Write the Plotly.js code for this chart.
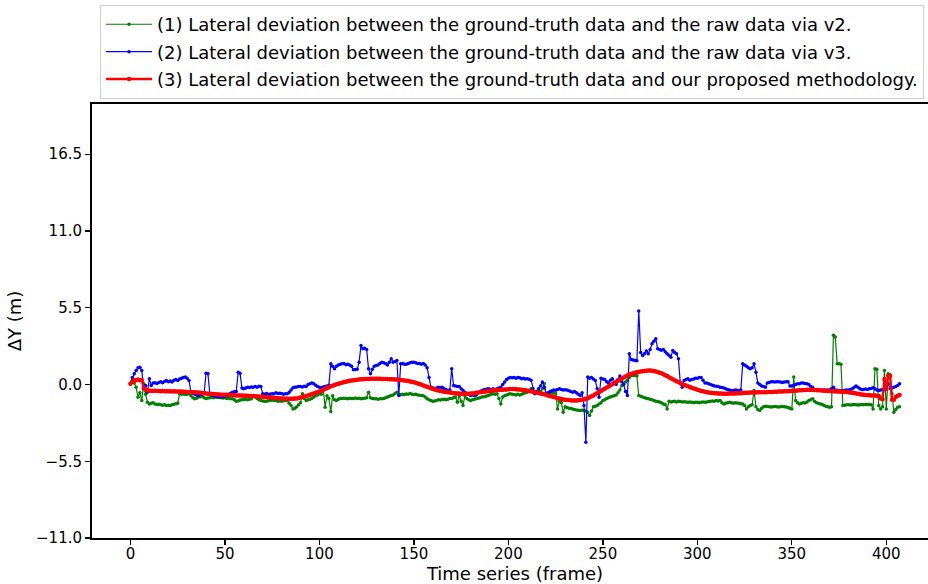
<!DOCTYPE html>
<html>
<head>
<meta charset="utf-8">
<script src="https://cdn.plot.ly/plotly-3.0.1.min.js"></script>
<style>
html,body{margin:0;padding:0;background:#fff;overflow:hidden;}
#chart{width:942px;height:584px;}
</style>
</head>
<body>
<div id="chart"></div>
<script>
// Lateral deviation (m) per frame
const devV2 = [
0.05,0.3,0.1,-0.2,-0.91,-0.6,-1.15,0.05,-0.7,-1.27,
-1.39,-1.35,-1.3,-1.4,-1.44,-1.42,-1.45,-1.48,-1.45,-1.5,
-1.48,-1.5,-1.45,-1.42,-1.38,-1.34,-0.67,-0.7,-0.68,-0.72,
-0.7,-0.67,-0.8,-0.95,-1.03,-0.98,-0.9,-0.88,-0.86,-0.95,
-1.0,-0.97,-0.95,-0.92,-0.95,-0.9,-0.93,-0.91,-0.95,-0.97,
-0.95,-1.0,-0.98,-1.02,-1.03,-1.1,-1.2,-1.18,-1.12,-1.1,
-1.08,-1.05,-1.1,-1.05,-1.03,-0.79,-0.9,-1.0,-1.1,-1.15,
-1.18,-1.2,-1.2,-1.17,-1.15,-1.12,-1.15,-1.15,-1.2,-1.18,
-1.2,-1.17,-1.15,-1.15,-1.35,-1.5,-1.75,-1.7,-1.6,-1.45,
-1.3,-0.67,-1.0,-1.15,-1.1,-1.05,-1.0,-0.9,-0.8,-0.75,
-0.67,-0.7,-0.31,-1.63,-0.8,-1.0,-1.94,-0.8,-1.1,-1.15,
-1.05,-1.0,-1.0,-0.98,-1.0,-1.02,-0.98,-1.0,-1.0,-0.97,
-1.0,-0.98,-1.02,-1.0,-0.98,-0.95,-0.55,-0.95,-1.0,-1.02,
-1.03,-1.05,-1.03,-1.03,-1.0,-0.95,-0.9,-0.85,-0.79,-0.75,
-0.65,-0.55,-0.7,-0.74,-0.7,-0.72,-0.68,-0.7,-0.65,-0.7,
-0.72,-0.7,-0.75,-0.77,-0.79,-0.8,-0.9,-1.03,-1.1,-1.15,
-1.2,-1.18,-1.15,-1.1,-1.12,-1.08,-1.05,-1.1,-1.05,-1.0,
-1.0,-0.95,-0.9,-1.27,-0.79,-1.2,-1.5,-0.8,-1.0,-1.1,
-1.15,-1.1,-1.05,-1.03,-0.98,-0.95,-0.9,-0.88,-0.85,-0.8,
-0.75,-0.7,-0.67,-0.7,-0.67,-1.0,-1.39,-0.9,-0.8,-0.75,
-0.7,-0.67,-0.7,-0.72,-0.75,-0.7,-0.75,-0.7,-0.65,-0.6,
-0.55,-0.45,-0.31,-0.5,-0.55,-0.5,-0.45,-0.5,-0.3,0.05,
-0.67,-0.65,-0.6,-0.62,-0.6,-0.65,-1.75,-1.2,-1.3,-1.99,
-1.6,-1.65,-1.7,-1.72,-1.75,-1.8,-1.82,-1.85,-1.87,-1.85,
-1.87,-1.9,-2.0,-2.23,-1.9,-1.6,-1.55,-1.5,-1.4,-1.3,
-1.15,-1.1,-1.0,-0.95,-0.9,-0.85,-0.8,-0.75,-0.6,-0.4,
-0.07,0.05,0.17,0.3,0.5,0.65,0.65,0.65,0.62,-0.79,
-0.85,-0.9,-0.95,-0.98,-1.03,-1.05,-1.1,-1.15,-1.2,-1.22,
-1.25,-1.3,-1.39,-1.45,-1.75,-1.2,-1.25,-1.22,-1.2,-1.25,
-1.2,-1.22,-1.25,-1.23,-1.25,-1.28,-1.25,-1.27,-1.3,-1.28,
-1.27,-1.3,-1.28,-1.25,-1.27,-1.25,-1.22,-1.2,-1.18,-1.2,
-1.15,-1.18,-1.15,-1.3,-1.4,-1.35,-1.3,-1.28,-1.3,-1.35,
-1.3,-1.32,-1.35,-1.38,-1.4,-1.5,-1.75,-1.6,-1.5,-1.45,
-0.43,-1.6,-1.8,-1.87,-1.7,-1.6,-1.55,-1.58,-1.6,-1.62,
-1.6,-1.58,-1.6,-1.62,-1.6,-1.58,-1.6,-1.62,-1.65,-1.7,
-1.75,0.53,-1.15,-1.3,-1.4,-1.35,-1.3,-1.32,-1.25,-1.15,
-1.1,-1.03,-1.2,-1.3,-1.35,-1.4,-1.42,-1.5,-1.55,-1.6,
-1.63,-1.6,3.52,3.4,1.48,1.48,1.45,-1.5,-1.48,-1.45,
-1.45,-1.47,-1.45,-1.44,-1.45,-1.47,-1.45,-1.44,-1.45,-1.43,
-1.44,-1.44,-1.45,-1.75,1.12,1.1,-1.5,-1.75,-1.6,1.0,
-1.75,0.77,0.7,-0.67,-1.99,-1.8,-1.63,-1.6
];
const devV3 = [
0.05,0.5,0.77,1.0,1.2,1.24,1.0,-0.31,-0.07,-0.55,
0.41,-0.07,0.1,0.12,0.08,0.15,0.2,0.12,0.22,0.29,
0.2,0.25,0.18,0.3,0.35,0.28,0.4,0.45,0.5,0.53,
0.45,0.29,-0.55,-0.62,-0.7,-0.75,-0.79,-0.72,-0.68,-0.6,
0.81,0.78,-0.67,-0.75,-0.8,-0.85,-0.88,-0.9,-0.86,-0.88,
-0.85,-0.8,-0.7,-0.62,-0.55,-0.52,-0.5,0.88,0.8,-0.25,
-0.31,-0.25,-0.2,-0.22,-0.18,-0.19,-0.15,-0.2,-0.12,-0.14,
-0.67,-0.7,-0.65,-0.72,-0.68,-0.66,-0.67,-0.6,-0.65,-0.62,
-0.64,-0.7,-0.66,-0.67,-0.55,-0.4,-0.24,-0.2,-0.18,-0.15,
-0.14,-0.18,-0.12,-0.14,0.0,0.05,0.1,0.05,-0.05,-0.15,
-0.2,-0.24,-0.18,-0.15,-0.1,-0.05,1.48,1.3,1.12,1.3,
1.4,1.45,1.48,1.5,1.42,1.45,1.4,1.3,1.05,1.08,
1.1,1.6,2.8,2.56,2.6,2.5,1.12,0.77,1.1,1.3,
1.36,1.4,1.5,1.6,1.55,1.5,1.4,1.6,1.84,1.6,
1.65,1.72,-0.79,1.48,1.5,1.45,1.45,1.5,1.55,1.6,
1.6,1.55,1.5,1.5,1.45,1.5,1.4,1.2,0.5,-0.19,
-0.25,-0.31,-0.25,-0.2,-0.22,-0.2,-0.3,-0.35,-0.43,-0.4,
1.12,-0.07,-0.1,-0.15,-0.15,-0.3,-0.43,-0.55,-0.67,-0.72,
-0.79,-0.75,-0.78,-0.75,-0.6,-0.5,-0.43,-0.38,-0.35,-0.31,
-0.33,-0.35,-0.3,-0.35,-0.3,-0.25,-0.2,0.0,0.17,0.35,
0.45,0.5,0.48,0.5,0.45,0.5,0.48,0.42,0.45,0.4,
0.41,0.38,0.3,-0.3,-0.67,-0.5,-0.3,-0.1,0.17,-0.2,
-0.67,-0.6,-0.5,-0.45,-0.4,-0.42,-0.35,-0.3,-0.35,-0.4,
-0.38,-0.4,-0.45,-0.5,-0.55,-0.5,-0.6,-0.7,-0.79,-0.6,
-1.5,-4.14,0.53,0.45,0.5,0.4,0.29,-0.3,-0.91,0.45,
0.4,0.35,0.2,0.1,0.3,0.41,0.1,0.0,0.35,0.6,
0.2,0.0,-0.5,-0.79,2.2,1.8,1.75,1.72,1.7,5.26,
2.3,2.08,2.2,2.4,2.2,2.5,2.92,3.1,3.28,2.56,
2.5,2.45,2.5,2.35,2.2,2.1,1.96,2.44,2.3,2.2,
1.84,0.05,-0.2,0.29,0.35,0.41,0.3,0.35,0.4,0.45,
0.45,0.5,0.5,0.3,0.1,0.1,0.05,0.0,-0.05,-0.1,
-0.12,-0.15,-0.19,-0.22,-0.25,-0.3,-0.35,-0.4,-0.45,-0.43,
-0.4,-0.42,-0.45,-0.4,1.48,1.4,1.3,1.2,1.12,1.2,
1.48,0.88,0.1,0.0,-0.1,-0.15,-0.19,0.1,0.15,0.2,
0.2,0.18,0.2,0.2,0.18,0.15,0.18,0.2,0.2,-0.1,
-0.1,-0.07,0.0,0.05,0.05,0.1,0.1,0.08,0.05,0.0,
-0.15,-0.19,-0.4,-0.43,-0.42,-0.43,-0.43,-0.4,-0.42,-0.4,
-0.4,-0.3,-0.19,-0.4,-0.42,-0.45,-0.43,-0.45,-0.42,-0.4,
-0.4,-0.35,-0.31,-0.2,-0.1,-0.2,-0.3,-0.35,-0.35,-0.33,
-0.35,-0.3,-0.28,-0.24,-0.3,-0.4,-0.43,-0.4,-0.38,-0.38,
-0.3,0.05,-0.3,-0.25,-0.2,-0.15,-0.07,0.05
];
const devProposed = [
0.05,0.2,0.3,0.3,0.35,0.3,0.32,-0.25,-0.4,-0.42,
-0.45,-0.44,-0.46,-0.45,-0.47,-0.46,-0.48,-0.47,-0.48,-0.48,
-0.49,-0.48,-0.5,-0.49,-0.5,-0.5,-0.51,-0.5,-0.52,-0.52,
-0.53,-0.54,-0.55,-0.55,-0.56,-0.58,-0.58,-0.6,-0.62,-0.63,
-0.64,-0.66,-0.66,-0.68,-0.69,-0.7,-0.72,-0.72,-0.73,-0.73,
-0.74,-0.74,-0.75,-0.76,-0.76,-0.77,-0.78,-0.78,-0.79,-0.79,
-0.8,-0.8,-0.81,-0.82,-0.82,-0.83,-0.84,-0.85,-0.86,-0.87,
-0.88,-0.89,-0.9,-0.91,-0.93,-0.94,-0.96,-0.97,-0.98,-1.0,
-1.0,-1.01,-1.02,-1.03,-1.03,-1.03,-1.02,-1.01,-1.0,-0.97,
-0.93,-0.9,-0.86,-0.82,-0.78,-0.74,-0.7,-0.65,-0.6,-0.55,
-0.5,-0.44,-0.38,-0.32,-0.26,-0.2,-0.14,-0.09,-0.04,0.01,
0.05,0.09,0.13,0.17,0.2,0.23,0.26,0.28,0.3,0.32,
0.34,0.35,0.37,0.38,0.39,0.4,0.4,0.41,0.41,0.42,
0.42,0.41,0.41,0.4,0.4,0.4,0.39,0.38,0.38,0.37,
0.36,0.35,0.34,0.33,0.31,0.29,0.27,0.25,0.22,0.19,
0.16,0.12,0.08,0.03,-0.02,-0.07,-0.12,-0.17,-0.22,-0.27,
-0.31,-0.35,-0.39,-0.43,-0.46,-0.49,-0.52,-0.54,-0.56,-0.58,
-0.6,-0.62,-0.63,-0.64,-0.65,-0.66,-0.67,-0.67,-0.67,-0.66,
-0.65,-0.64,-0.62,-0.6,-0.58,-0.56,-0.54,-0.52,-0.5,-0.48,
-0.46,-0.44,-0.42,-0.41,-0.4,-0.39,-0.38,-0.37,-0.36,-0.35,
-0.34,-0.33,-0.33,-0.33,-0.34,-0.35,-0.36,-0.38,-0.4,-0.42,
-0.44,-0.46,-0.49,-0.52,-0.55,-0.58,-0.61,-0.64,-0.67,-0.7,
-0.74,-0.78,-0.82,-0.86,-0.9,-0.94,-0.98,-1.01,-1.04,-1.07,
-1.09,-1.11,-1.12,-1.13,-1.14,-1.14,-1.14,-1.13,-1.12,-1.1,
-1.07,-1.03,-0.98,-0.92,-0.85,-0.78,-0.7,-0.62,-0.54,-0.46,
-0.38,-0.3,-0.22,-0.14,-0.06,0.02,0.1,0.18,0.26,0.34,
0.42,0.5,0.58,0.65,0.71,0.76,0.8,0.84,0.87,0.9,
0.93,0.95,0.97,0.99,1.0,1.0,0.99,0.97,0.94,0.9,
0.85,0.8,0.74,0.67,0.6,0.52,0.45,0.38,0.31,0.24,
0.17,0.1,0.03,-0.03,-0.08,-0.13,-0.18,-0.23,-0.28,-0.33,
-0.38,-0.42,-0.46,-0.49,-0.52,-0.55,-0.57,-0.59,-0.61,-0.62,
-0.63,-0.64,-0.65,-0.65,-0.66,-0.66,-0.66,-0.65,-0.65,-0.64,
-0.64,-0.63,-0.62,-0.62,-0.61,-0.6,-0.6,-0.59,-0.58,-0.58,
-0.57,-0.57,-0.56,-0.56,-0.55,-0.55,-0.55,-0.54,-0.54,-0.53,
-0.53,-0.52,-0.52,-0.51,-0.5,-0.5,-0.49,-0.49,-0.48,-0.47,
-0.46,-0.45,-0.44,-0.43,-0.42,-0.41,-0.4,-0.39,-0.38,-0.38,
-0.38,-0.38,-0.39,-0.4,-0.41,-0.42,-0.43,-0.44,-0.45,-0.46,
-0.47,-0.48,-0.48,-0.49,-0.5,-0.5,-0.51,-0.52,-0.53,-0.54,
-0.55,-0.57,-0.59,-0.61,-0.64,-0.67,-0.7,-0.72,-0.74,-0.75,
-0.76,-0.77,-0.78,-0.78,-0.79,-0.8,-0.82,-1.0,-1.05,0.4,
-0.3,0.65,0.6,-1.1,-1.1,-0.9,-0.8,-0.75
];
const frames = devV2.map((_, i) => i);
const seriesNames = [
  "(1) Lateral deviation between the ground-truth data and the raw data via v2.",
  "(2) Lateral deviation between the ground-truth data and the raw data via v3.",
  "(3) Lateral deviation between the ground-truth data and our proposed methodology."
];
const yTicks = [-11, -5.5, 0, 5.5, 11, 16.5];
const xTicks = [0, 50, 100, 150, 200, 250, 300, 350, 400];

const FONT = "DejaVu Sans, sans-serif";
const traces = [
  {x: frames, y: devV2, name: seriesNames[0], legendgroup: "a", mode: "lines+markers",
   line: {color: "#008000", width: 1.2}, marker: {color: "#008000", size: 3.5}},
  {x: frames, y: devV3, name: seriesNames[1], legendgroup: "b", mode: "lines+markers",
   line: {color: "#0000ff", width: 1.2}, marker: {color: "#0000ff", size: 3.5}},
  {x: frames, y: devProposed, name: seriesNames[2], legendgroup: "c", mode: "lines+markers",
   line: {color: "#ff0000", width: 2.4}, marker: {color: "#ff0000", size: 4.5}}
];
const axisCommon = {
  showline: true, mirror: true, linecolor: "#000", linewidth: 2,
  ticks: "outside", ticklen: 5, tickwidth: 1.3, tickcolor: "#000",
  showgrid: false, zeroline: false,
  tickfont: {family: FONT, size: 15, color: "#000"}
};
const layout = {
  width: 942, height: 584,
  margin: {l: 92, r: 4, t: 104, b: 46},
  paper_bgcolor: "#fff", plot_bgcolor: "#fff",
  font: {family: FONT, color: "#000"},
  showlegend: true,
  legend: {
    x: 0.0095, xanchor: "left", y: 1.228, yanchor: "top",
    font: {family: FONT, size: 18, color: "#000"},
    bordercolor: "#d0d0d0", borderwidth: 1, bgcolor: "#fff",
    itemwidth: 46, traceorder: "grouped", tracegroupgap: 1
  },
  xaxis: Object.assign({}, axisCommon, {
    range: [-20.35, 427.35], tickvals: xTicks, ticklabelstandoff: -4,
    title: {text: "Time series (frame)", font: {family: FONT, size: 18}, standoff: 0}
  }),
  yaxis: Object.assign({}, axisCommon, {
    range: [-11, 20.1], tickvals: yTicks, tickformat: ".1f",
    title: {text: "ΔY (m)", font: {family: FONT, size: 18}, standoff: 10}
  })
};
Plotly.newPlot("chart", traces, layout, {displayModeBar: false, staticPlot: true});
</script>
</body>
</html>
